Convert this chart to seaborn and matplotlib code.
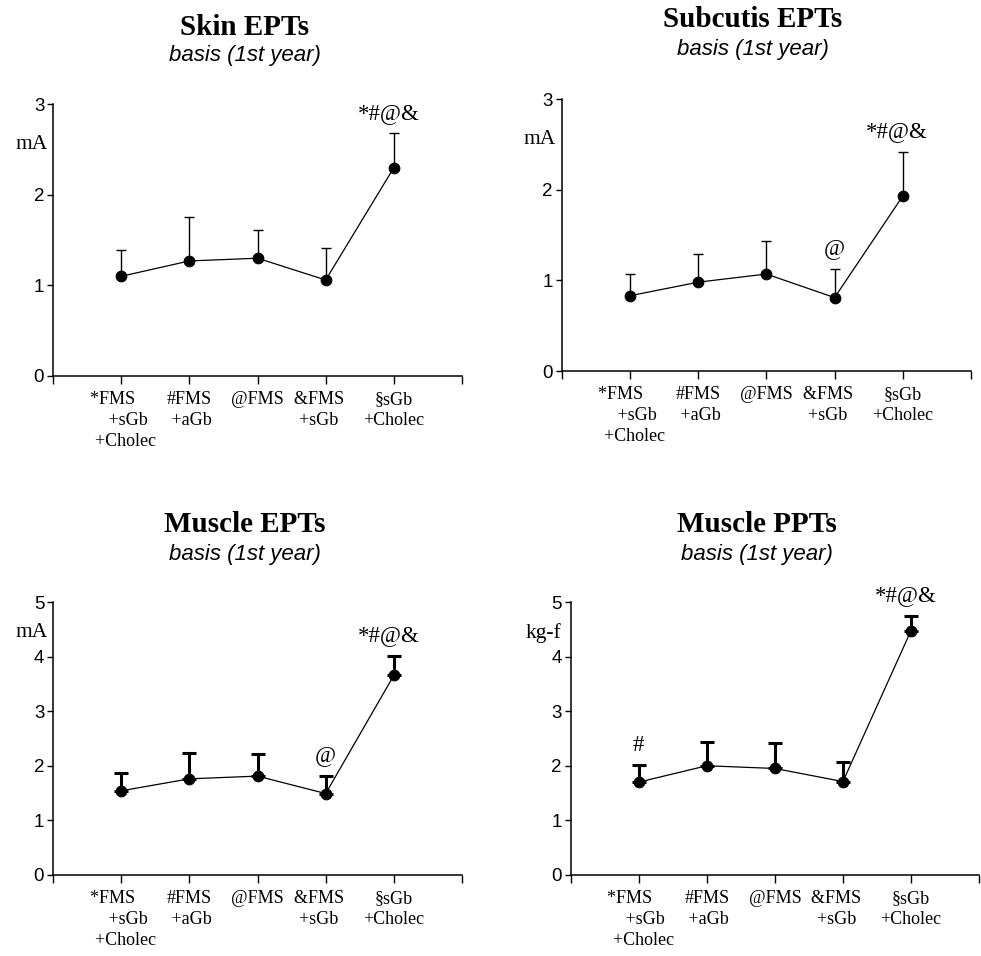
import numpy as np
import pandas as pd
import seaborn as sns
import matplotlib.pyplot as plt

sns.set_style("ticks")
plt.rcParams["font.family"] = ["Liberation Serif", "DejaVu Serif"]
plt.rcParams.update({
    "text.color": "black",
    "axes.labelcolor": "black",
    "xtick.color": "black",
    "ytick.color": "black",
    "axes.edgecolor": "black",
})

# Group labels (shared by all panels)
groups = ["*FMS\n+sGb\n+Cholec", "#FMS\n+aGb", "@FMS", "&FMS\n+sGb", "§sGb\n+Cholec"]

# Mean values and upper SD limits per panel
skin_mean = [1.10, 1.27, 1.30, 1.06, 2.30]
skin_upper = [1.39, 1.75, 1.61, 1.41, 2.68]

subcutis_mean = [0.83, 0.98, 1.07, 0.81, 1.93]
subcutis_upper = [1.07, 1.29, 1.43, 1.13, 2.42]

muscle_ept_mean = [1.54, 1.76, 1.81, 1.49, 3.66]
muscle_ept_upper = [1.87, 2.24, 2.21, 1.81, 4.02]

muscle_ppt_mean = [1.70, 2.00, 1.95, 1.71, 4.48]
muscle_ppt_upper = [2.01, 2.43, 2.42, 2.07, 4.75]

# Significance marks: (group index, text)
skin_marks = [(4, "*#@&")]
subcutis_marks = [(3, "@"), (4, "*#@&")]
muscle_ept_marks = [(3, "@"), (4, "*#@&")]
muscle_ppt_marks = [(0, "#"), (4, "*#@&")]

fig = plt.figure(figsize=(9.81, 9.56), dpi=100)

panels = [
    dict(rect=[0.054, 0.6067, 0.417, 0.2843], mean=skin_mean, upper=skin_upper,
         marks=skin_marks, ymax=3, unit="mA", unit_x=-0.051, bold=False,
         title="Skin EPTs", tx=0.2497, ty=0.9634, sy=0.936),
    dict(rect=[0.5726, 0.6119, 0.4172, 0.2845], mean=subcutis_mean, upper=subcutis_upper,
         marks=subcutis_marks, ymax=3, unit="mA", unit_x=-0.053, bold=False,
         title="Subcutis EPTs", tx=0.7676, ty=0.9714, sy=0.9425),
    dict(rect=[0.054, 0.085, 0.417, 0.285], mean=muscle_ept_mean, upper=muscle_ept_upper,
         marks=muscle_ept_marks, ymax=5, unit="mA", unit_x=-0.051, bold=True,
         title="Muscle EPTs", tx=0.2497, ty=0.4432, sy=0.4142),
    dict(rect=[0.5818, 0.085, 0.4162, 0.285], mean=muscle_ppt_mean, upper=muscle_ppt_upper,
         marks=muscle_ppt_marks, ymax=5, unit="kg-f", unit_x=-0.068, bold=True,
         title="Muscle PPTs", tx=0.7717, ty=0.4432, sy=0.4142),
]

# Per-line offsets for the staggered group labels (spaces shift each line)
tick_text = ["*FMS    \n   +sGb\n  +Cholec", "#FMS\n +aGb", "@FMS", "&FMS   \n+sGb   ", "§sGb\n+Cholec"]

for p in panels:
    ax = fig.add_axes(p["rect"])
    pos = np.arange(1, len(groups) + 1)
    mean = np.array(p["mean"])
    upper = np.array(p["upper"])
    df = pd.DataFrame({"group": pos, "value": mean})

    lw_err = 2.2 if p["bold"] else 1.0
    cap = 4.8 if p["bold"] else 3.6
    ax.errorbar(pos, mean, yerr=[np.zeros_like(mean), upper - mean], fmt="none",
                ecolor="black", elinewidth=lw_err, capsize=cap, capthick=lw_err, zorder=1)
    sns.lineplot(data=df, x="group", y="value", ax=ax, color="black", linewidth=0.9,
                 marker="o", markersize=7.7, markeredgecolor="black", zorder=3)

    ax.set_xlim(0, 6)
    ax.set_ylim(0, p["ymax"])
    ax.set_yticks(range(0, p["ymax"] + 1))
    ax.set_yticklabels([str(v) for v in range(0, p["ymax"] + 1)],
                       family=["Liberation Sans", "DejaVu Sans"], fontsize=13.5)
    ax.set_xticks(range(0, 7))
    ax.set_xticklabels([""] + tick_text + [""], fontsize=13, linespacing=1.32,
                       multialignment="center")
    ax.tick_params(axis="x", direction="out", length=5.8, width=1.0, pad=5, colors="black")
    ax.tick_params(axis="y", direction="out", length=4.3, width=1.0, pad=2, colors="black")
    ax.set_xlabel("")
    ax.set_ylabel(p["unit"], rotation=0, fontsize=15.5, va="center", ha="center")
    ax.yaxis.set_label_coords(p["unit_x"], 0.85 if p["ymax"] == 3 else 0.888)
    sns.despine(ax=ax)
    for s in ["left", "bottom"]:
        ax.spines[s].set_linewidth(1.1)
        ax.spines[s].set_color("black")

    for idx, txt in p["marks"]:
        dx = -4 if len(txt) > 1 else 0
        ax.annotate(txt, xy=(pos[idx], upper[idx]), xytext=(dx, 14.5),
                    textcoords="offset points", ha="center", va="center",
                    fontsize=16.5, annotation_clip=False, color="black")

    fig.text(p["tx"], p["ty"], p["title"], ha="center", va="baseline",
             fontsize=21, fontweight="bold", color="black")
    fig.text(p["tx"], p["sy"], "basis (1st year)", ha="center", va="baseline",
             fontsize=16, style="italic", family=["Liberation Sans", "DejaVu Sans"],
             color="black")

fig.savefig("out.png", dpi=100, facecolor="white")
